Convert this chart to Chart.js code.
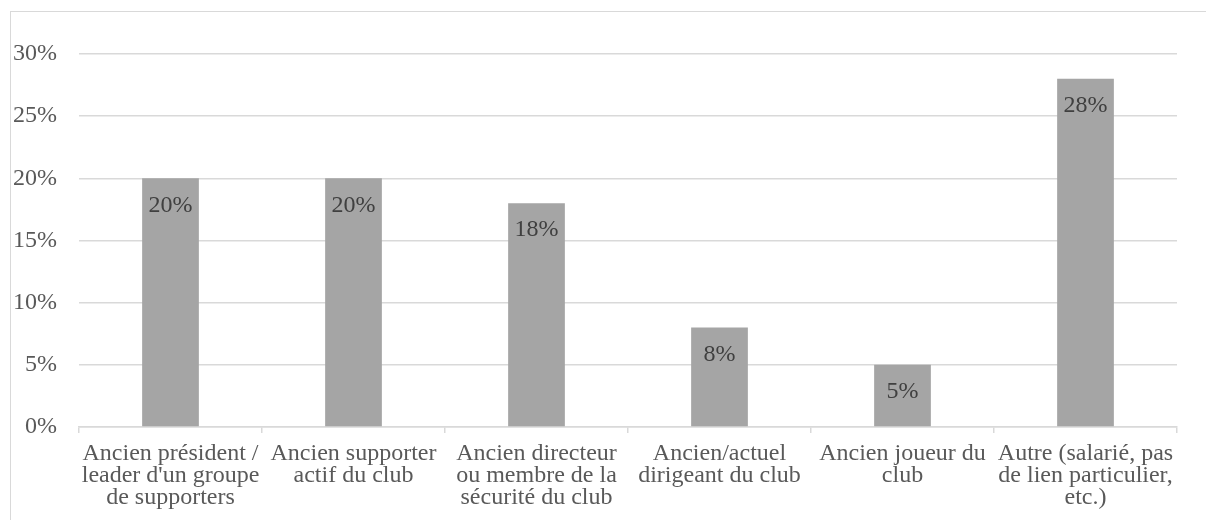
<!DOCTYPE html>
<html>
<head>
<meta charset="utf-8">
<script src="https://cdn.jsdelivr.net/npm/chart.js@4"></script>
<style>
  html, body { margin: 0; padding: 0; background: #fff; overflow: hidden; }
  #frame { position: absolute; left: 10px; top: 11px; width: 1300px; height: 600px; border: 1.5px solid #d9d9d9; }
  #wrap { position: absolute; left: 0; top: 0; width: 1206px; height: 520px; }
</style>
</head>
<body>
<div id="frame"></div>
<div id="wrap"><canvas id="chart" width="1206" height="520"></canvas></div>
<script>
const categories = [
    ["Ancien président /", "leader d'un groupe", "de supporters"],
    ["Ancien supporter", "actif du club"],
    ["Ancien directeur", "ou membre de la", "sécurité du club"],
    ["Ancien/actuel", "dirigeant du club"],
    ["Ancien joueur du", "club"],
    ["Autre (salarié, pas", "de lien particulier,", "etc.)"]
];
const valeurs = [20, 20, 18, 8, 5, 28];

const police = "'Liberation Serif', 'Times New Roman', serif";

// pourcentages écrits dans le haut de chaque barre
const etiquettes = {
    id: "etiquettes",
    afterDatasetsDraw(chart) {
        const ctx = chart.ctx;
        const meta = chart.getDatasetMeta(0);
        ctx.save();
        ctx.font = "24px " + police;
        ctx.fillStyle = "#404040";
        ctx.textAlign = "center";
        ctx.textBaseline = "middle";
        meta.data.forEach((bar, i) => {
            ctx.fillText(valeurs[i] + "%", bar.x, bar.y + 27);
        });
        ctx.restore();
    }
};

new Chart(document.getElementById("chart").getContext("2d"), {
    type: "bar",
    data: {
        labels: categories,
        datasets: [{
            data: valeurs,
            backgroundColor: "#a5a5a5",
            barPercentage: 0.31,
            categoryPercentage: 1
        }]
    },
    options: {
        responsive: false,
        animation: false,
        layout: { padding: { top: 54, right: 29, left: 0, bottom: 0 } },
        plugins: { legend: { display: false }, tooltip: { enabled: false } },
        scales: {
            x: {
                grid: { offset: true, drawOnChartArea: false, drawTicks: true, tickLength: 6, color: "#d9d9d9", lineWidth: 1.5 },
                border: { color: "#d9d9d9", width: 1.5 },
                ticks: { color: "#595959", font: { family: police, size: 24, lineHeight: 0.92 }, padding: 10, maxRotation: 0, autoSkip: false },
                afterFit(scale) { scale.height = 93; }
            },
            y: {
                min: 0,
                max: 30,
                grid: { drawTicks: false, color: "#d9d9d9", lineWidth: 1.5 },
                border: { display: false },
                ticks: { stepSize: 5, color: "#595959", font: { family: police, size: 24 }, padding: 22, callback: (v) => v + "%" },
                afterFit(scale) { scale.width = 79; }
            }
        }
    },
    plugins: [etiquettes]
});
</script>
</body>
</html>
